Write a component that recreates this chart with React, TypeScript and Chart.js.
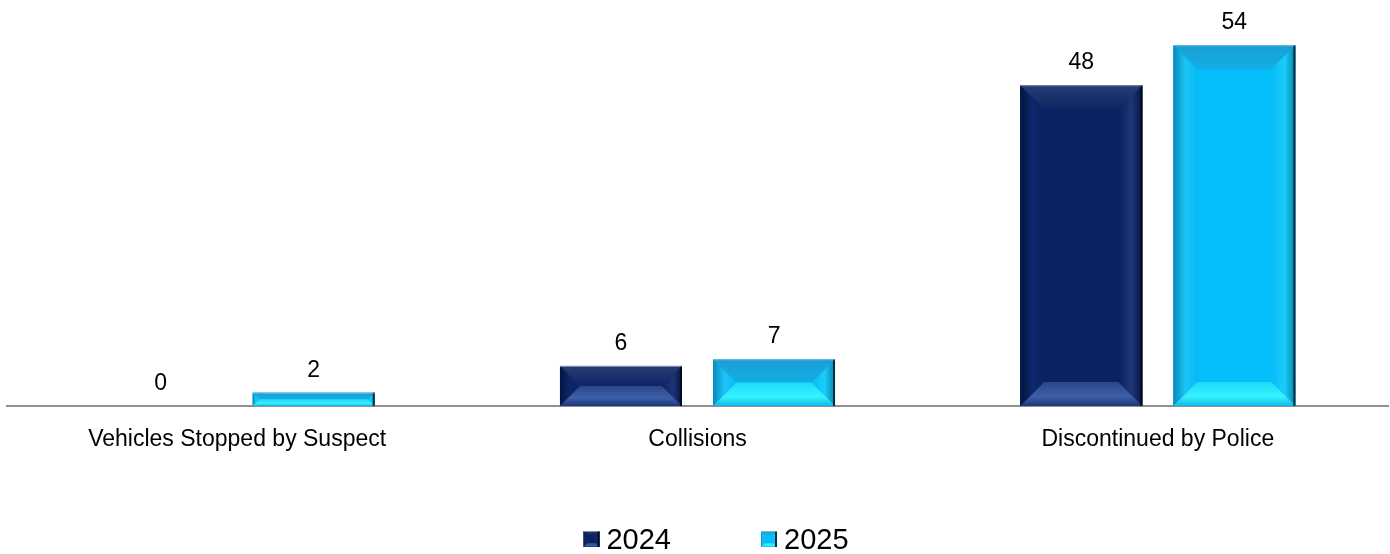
import React, { useEffect, useRef } from "react";
import { Chart, registerables } from "chart.js";

Chart.register(...registerables);

const FONT = "'Liberation Sans', Arial, Helvetica, sans-serif";

const categories = ["Vehicles Stopped by Suspect", "Collisions", "Discontinued by Police"];
const seriesNames = ["2024", "2025"];
const values2024 = [0, 6, 48];
const values2025 = [2, 7, 54];

type Pal = {
  main: string;
  topA: string; topB: string;
  botA: string; botB: string; botC: string;
  leftA: string; leftM: string; leftB: string;
  rightA: string; rightM: string; rightB: string;
  edge: string;
};

const palettes: Pal[] = [
  {
    main: "#0a2262",
    topA: "#2a3d73", topB: "#0e2666",
    botA: "#2a4688", botB: "#3e5ea8", botC: "#1c3677",
    leftA: "#03143f", leftM: "#0d276a", leftB: "#0a2262",
    rightA: "#0a2262", rightM: "#1d3675", rightB: "#041645",
    edge: "#000a20",
  },
  {
    main: "#05bdf8",
    topA: "#1a9fd4", topB: "#12aee6",
    botA: "#1fd8f8", botB: "#36f2ff", botC: "#12b6e6",
    leftA: "#0789bb", leftM: "#1cc4f5", leftB: "#06bbf6",
    rightA: "#05bdf8", rightM: "#1ccbfb", rightB: "#0a84ad",
    edge: "#06303f",
  },
];

function poly(ctx: CanvasRenderingContext2D, pts: number[][], fill: string | CanvasGradient) {
  ctx.beginPath();
  ctx.moveTo(pts[0][0], pts[0][1]);
  for (let i = 1; i < pts.length; i++) ctx.lineTo(pts[i][0], pts[i][1]);
  ctx.closePath();
  ctx.fillStyle = fill;
  ctx.fill();
}

function drawBevel(ctx: CanvasRenderingContext2D, l: number, t: number, r: number, bot: number, pal: Pal, bMax: number) {
  const w = r - l;
  const h = bot - t;
  if (h <= 0.5 || w <= 0.5) return;
  const b = Math.min(bMax, h / 2, w / 2);
  ctx.save();
  ctx.fillStyle = pal.main;
  ctx.fillRect(l, t, w, h);
  const gl = ctx.createLinearGradient(l, 0, l + b, 0);
  gl.addColorStop(0, pal.leftA);
  gl.addColorStop(0.5, pal.leftM);
  gl.addColorStop(1, pal.leftB);
  poly(ctx, [[l, t], [l + b, t + b], [l + b, bot - b], [l, bot]], gl);
  const gr = ctx.createLinearGradient(r - b, 0, r, 0);
  gr.addColorStop(0, pal.rightA);
  gr.addColorStop(0.55, pal.rightM);
  gr.addColorStop(1, pal.rightB);
  poly(ctx, [[r, t], [r - b, t + b], [r - b, bot - b], [r, bot]], gr);
  const gt = ctx.createLinearGradient(0, t, 0, t + b);
  gt.addColorStop(0, pal.topA);
  gt.addColorStop(1, pal.topB);
  poly(ctx, [[l, t], [r, t], [r - b, t + b], [l + b, t + b]], gt);
  const gb = ctx.createLinearGradient(0, bot - b, 0, bot);
  gb.addColorStop(0, pal.botA);
  gb.addColorStop(0.6, pal.botB);
  gb.addColorStop(1, pal.botC);
  poly(ctx, [[l, bot], [r, bot], [r - b, bot - b], [l + b, bot - b]], gb);
  ctx.fillStyle = pal.edge;
  ctx.fillRect(r - Math.min(2, w / 4), t, Math.min(2, w / 4), h);
  ctx.fillStyle = "rgba(200,205,215,0.55)";
  ctx.fillRect(l, t, w, 1);
  ctx.restore();
}

const bevelPlugin = {
  id: "bevelBars",
  afterDatasetsDraw(chart: any) {
    const ctx = chart.ctx as CanvasRenderingContext2D;
    chart.data.datasets.forEach((_ds: any, di: number) => {
      const meta = chart.getDatasetMeta(di);
      const pal = palettes[di % palettes.length];
      meta.data.forEach((el: any) => {
        const { x, y, base, width } = el.getProps(["x", "y", "base", "width"], true);
        const l = x - width / 2;
        const r = x + width / 2;
        const t = Math.min(y, base);
        const bot = Math.max(y, base);
        drawBevel(ctx, l, t, r, bot, pal, 24);
      });
    });
  },
  afterDraw(chart: any) {
    const ctx = chart.ctx as CanvasRenderingContext2D;
    ctx.save();
    ctx.font = `23px ${FONT}`;
    ctx.fillStyle = "#000000";
    ctx.textAlign = "center";
    ctx.textBaseline = "alphabetic";
    chart.data.datasets.forEach((ds: any, di: number) => {
      const meta = chart.getDatasetMeta(di);
      meta.data.forEach((el: any, i: number) => {
        const { x, y } = el.getProps(["x", "y"], true);
        ctx.fillText(String(ds.data[i]), x, y - 16);
      });
    });
    ctx.restore();

    ctx.save();
    ctx.font = `29px ${FONT}`;
    const box = 16;
    const gapText = 7;
    const itemGap = 90;
    const items = chart.data.datasets.map((ds: any, di: number) => ({
      label: String(ds.label),
      pal: palettes[di % palettes.length],
      w: box + gapText + ctx.measureText(String(ds.label)).width,
    }));
    const total = items.reduce((s: number, it: any) => s + it.w, 0) + itemGap * (items.length - 1);
    let x = chart.width / 2 + 21 - total / 2;
    const cy = 539;
    items.forEach((it: any) => {
      drawBevel(ctx, x, cy - box / 2, x + box, cy + box / 2, it.pal, 4);
      ctx.fillStyle = "#000000";
      ctx.textAlign = "left";
      ctx.textBaseline = "middle";
      ctx.fillText(it.label, x + box + gapText, cy + 2);
      x += it.w + itemGap;
    });
    ctx.restore();
  },
};

export default function App() {
  const ref = useRef<HTMLCanvasElement>(null);
  useEffect(() => {
    if (!ref.current) return;
    const chart = new Chart(ref.current, {
      type: "bar",
      data: {
        labels: categories,
        datasets: [
          { label: seriesNames[0], data: values2024, backgroundColor: palettes[0].main, borderWidth: 0 },
          { label: seriesNames[1], data: values2025, backgroundColor: palettes[1].main, borderWidth: 0 },
        ],
      },
      options: {
        responsive: false,
        animation: false,
        devicePixelRatio: 1,
        layout: { padding: { left: 7, right: 2, top: 5, bottom: 0 } },
        datasets: {
          bar: { categoryPercentage: 0.665, barPercentage: 0.797 },
        },
        plugins: {
          legend: { display: false },
          tooltip: { enabled: false },
          title: { display: false },
        },
        scales: {
          x: {
            grid: { display: false, drawTicks: false },
            border: { display: true, color: "#8f8f8f", width: 2 },
            ticks: { color: "#000000", font: { family: FONT, size: 23 }, padding: 20, maxRotation: 0, autoSkip: false },
            afterFit: (scale: any) => {
              scale.height = 148;
            },
          },
          y: {
            display: false,
            min: 0,
            max: 60,
          },
        },
      },
      plugins: [bevelPlugin],
    } as any);
    return () => chart.destroy();
  }, []);
  return (
    <div style={{ position: "fixed", left: 0, top: 0, width: 1390, height: 554, background: "#ffffff" }}>
      <canvas ref={ref} width={1390} height={554} style={{ display: "block", width: 1390, height: 554 }} />
    </div>
  );
}
